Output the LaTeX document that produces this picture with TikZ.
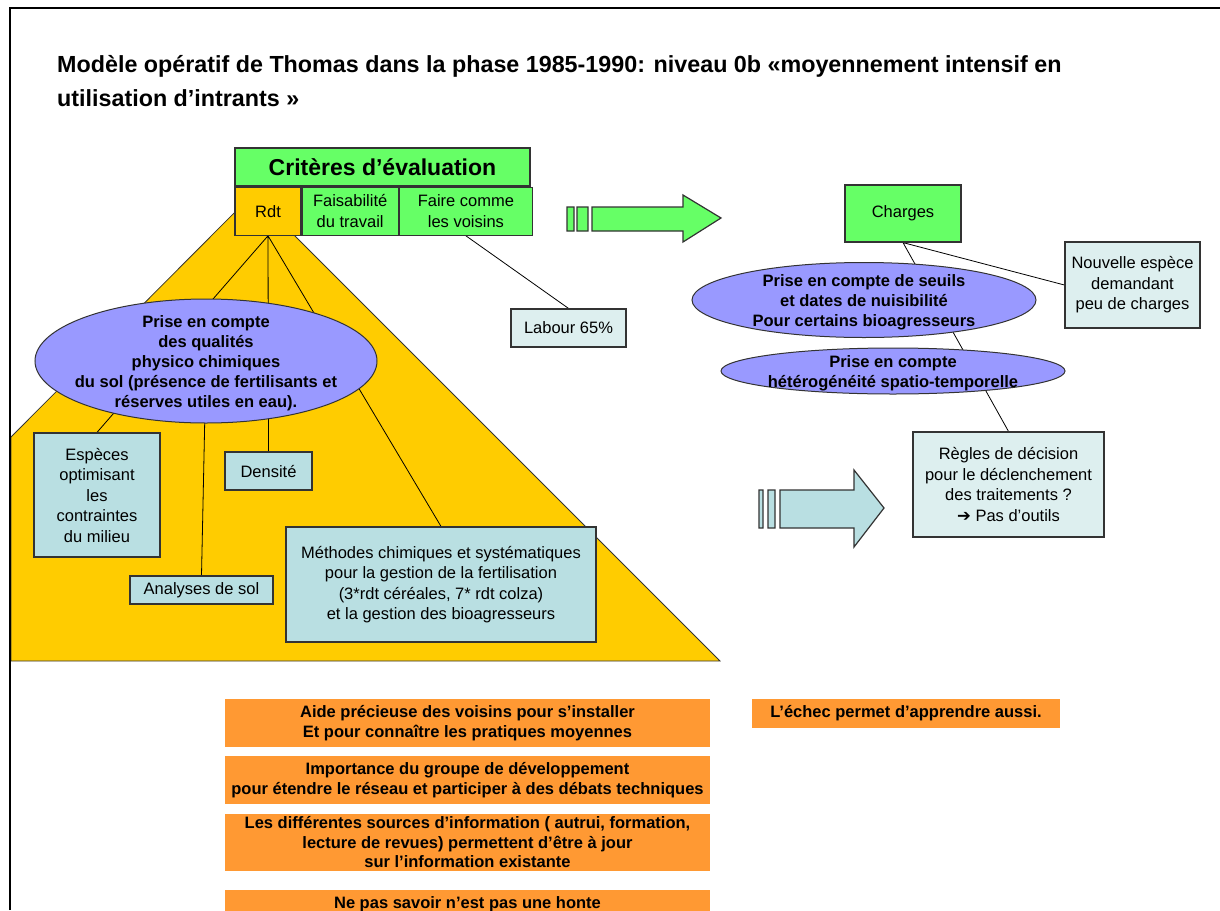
\documentclass[tikz,border=0pt]{standalone}
\usepackage{fontspec}
\setmainfont{Liberation Sans}
\newfontfamily\flechefont{DejaVu Sans}
\usepackage{tikz}
\usetikzlibrary{positioning}
\usetikzlibrary{shapes.geometric}
\usetikzlibrary{backgrounds}
\definecolor{vert}{HTML}{66FF66}
\definecolor{jaune}{HTML}{FFCC00}
\definecolor{mauve}{HTML}{9999FF}
\definecolor{bleuclair}{HTML}{B9DFE2}
\definecolor{bleupale}{HTML}{DDEFEF}
\definecolor{orangeclair}{HTML}{FF9933}
\tikzset{
	titre/.style={
		align=left,
		inner sep=0pt,
		font=\bfseries\fontsize{23.3}{34}\selectfont},
	boite/.style={
		rectangle,
		draw=black!80, line width=1.2pt,
		fill=bleuclair,
		inner sep=0pt,
		align=center,
		font=\fontsize{16.5}{20.5}\selectfont},
	grille/.style={boite, fill=bleupale},
	cellule/.style={boite, fill=vert, minimum height=48},
	bulle/.style={
		ellipse,
		draw=black!80, line width=1pt,
		fill=mauve,
		inner sep=0pt},
	bulletexte/.style={align=center, inner sep=0pt, yshift=-2pt, font=\bfseries\fontsize{16.5}{20}\selectfont},
	bandeau/.style={
		rectangle,
		fill=orangeclair,
		inner sep=0pt,
		minimum width=485,
		align=center,
		font=\bfseries\fontsize{16.5}{19.5}\selectfont},
	lien/.style={draw, black, line width=0.8pt},
	grandefleche/.style={draw=black!80, line width=1.2pt},
}

\begin{document}
\begin{tikzpicture}[x=1pt, y=-1pt]
	\useasboundingbox (0,0) rectangle (1220,910);
	\clip (0,0) rectangle (1220,910);

	\node[titre, anchor=north west] (titre) at (57,55) {Modèle opératif de Thomas dans la phase 1985-1990: niveau 0b «moyennement intensif en\\utilisation d’intrants »};

	% criteres
	\node[cellule, font=\bfseries\fontsize{23}{26}\selectfont, minimum width=295, minimum height=38] (criteres) at (382.5,167) {Critères d’évaluation};
	\node[cellule, fill=jaune, minimum width=66, anchor=north west] (rdt) at (criteres.south west) {Rdt};
	\node[cellule, minimum width=96, right=0pt of rdt] (faisabilite) {Faisabilité\\du travail};
	\node[cellule, minimum width=133, right=0pt of faisabilite] (voisins) {Faire comme\\les voisins};

	\node[bulle, minimum width=342, minimum height=124, label={[bulletexte]center:{Prise en compte\\des qualités\\physico chimiques\\du sol (présence de fertilisants et\\réserves utiles en eau).}}] (qualites) at (206,361) {};
	\node[boite, minimum width=126, minimum height=124] (especes) at (97,495) {Espèces\\optimisant\\les\\contraintes\\du milieu};
	\node[boite, minimum width=87, minimum height=38] (densite) at (268.5,471) {Densité};
	\node[boite, minimum width=143, minimum height=28] (analyses) at (201.5,590) {Analyses de sol};
	\node[boite, minimum width=310, minimum height=115] (methodes) at (441,584.5) {Méthodes chimiques et systématiques\\pour la gestion de la fertilisation\\(3*rdt céréales, 7* rdt colza)\\et la gestion des bioagresseurs};
	\node[grille, minimum width=115, minimum height=38] (labour) at (568.5,328) {Labour 65\%};

	% charges
	\node[cellule, minimum width=116, minimum height=57] (charges) at (903,213.5) {Charges};
	\node[grille, minimum width=135, minimum height=86] (nouvelle) at (1132.5,285) {Nouvelle espèce\\demandant\\peu de charges};
	\node[bulle, minimum width=344, minimum height=75, label={[bulletexte]center:{Prise en compte de seuils\\et dates de nuisibilité\\Pour certains bioagresseurs}}] (seuils) at (864,300) {};
	\node[bulle, minimum width=344, minimum height=46, label={[bulletexte]center:{Prise en compte\\hétérogénéité spatio-temporelle}}] (heterogeneite) at (893,371) {};
	\node[grille, minimum width=191, minimum height=105] (regles) at (1008.5,484.5) {Règles de décision\\pour le déclenchement\\des traitements ?\\{\flechefont ➔} Pas d’outils};

	\filldraw[fill=vert, grandefleche] (567,207) rectangle (574,231) (577,207) rectangle (588,231)
		(592,207) -- (683,207) -- (683,195) -- (721,218) -- (683,242) -- (683,231) -- (592,231) -- cycle;
	\filldraw[fill=bleuclair, grandefleche] (759,490) rectangle (763,528) (768,490) rectangle (775,528)
		(780,490) -- (854,490) -- (854,470) -- (884,508) -- (854,547) -- (854,528) -- (780,528) -- cycle;

	% bandeaux
	\node[bandeau, minimum height=48] (aide) at (467.5,723) {Aide précieuse des voisins pour s’installer\\Et pour connaître les pratiques moyennes};
	\node[bandeau, minimum height=48] (groupe) at (467.5,780) {Importance du groupe de développement\\pour étendre le réseau et participer à des débats techniques};
	\node[bandeau, minimum height=57] (sources) at (467.5,842.5) {Les différentes sources d’information ( autrui, formation,\\lecture de revues) permettent d’être à jour\\sur l’information existante};
	\node[bandeau, minimum height=28] (honte) at (467.5,904) {Ne pas savoir n’est pas une honte};
	\node[bandeau, minimum width=308, minimum height=29] (echec) at (906,713.5) {L’échec permet d’apprendre aussi.};

	\begin{scope}[on background layer]
		\filldraw[fill=jaune, draw=black!80, line width=0.8pt] (253,194) -- (11,437) -- (11,661) -- (720,661) -- cycle;
		\path[lien] (rdt.south) -- (especes.north)
			(rdt.south) -- (densite.north)
			(rdt.south) -- (methodes.north)
			(qualites.center) -- (analyses.north)
			(voisins.south) -- (labour.north)
			(charges.south) -- (regles.north)
			(charges.south) -- (nouvelle.west);
	\end{scope}

	\draw[line width=2pt] (10,910) -- (10,8) -- (1220,8);
\end{tikzpicture}
\end{document}
